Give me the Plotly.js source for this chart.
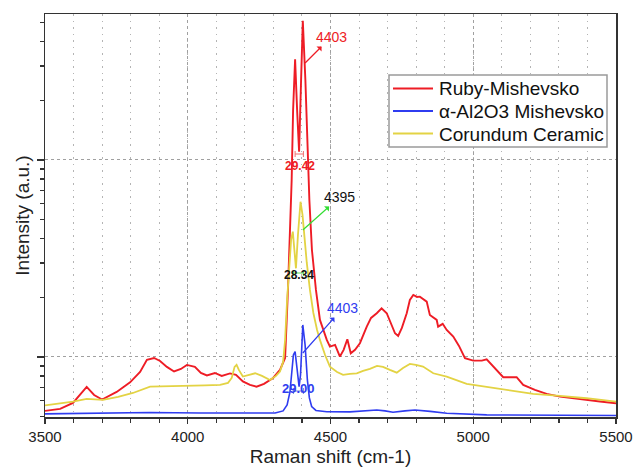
<!DOCTYPE html>
<html>
<head>
<meta charset="utf-8">
<script src="https://cdn.plot.ly/plotly-3.0.1.min.js"></script>
<style>html,body{margin:0;padding:0;background:#fff}#chart{width:633px;height:472px}</style>
</head>
<body>
<div id="chart"></div>
<script>
// Ruby-Mishevsko
const rubyX = [3500,3553,3598,3623,3646,3672,3700,3751,3798,3833,3857,3882,3903,3927,3952,3976,3997,4025,4046,4067,4095,4119,4148,4169,4193,4218,4241,4267,4299,4323,4341,4351,4358,4364,4369,4376,4383,4390,4397,4403,4412,4419,4426,4435,4449,4463,4487,4498,4516,4533,4546,4559,4571,4586,4603,4627,4642,4662,4679,4697,4712,4726,4737,4750,4767,4778,4790,4803,4813,4837,4848,4872,4877,4893,4907,4930,4950,4971,5000,5030,5047,5062,5076,5105,5152,5175,5216,5257,5304,5374,5444,5500];
const rubyY = [532,545,584,649,705,641,608,664,743,839,966,988,954,890,844,869,911,890,829,805,829,801,825,811,751,721,706,730,782,859,988,2188,4416,7907,17950,32430,17950,11020,25460,50930,25460,11250,6266,3491,2188,1541,1220,1128,1151,1004,1086,1230,1044,1086,1174,1425,1578,1667,1767,1667,1472,1319,1279,1404,1667,1946,2064,2017,2024,1909,1633,1541,1425,1472,1371,1268,1137,985,958,958,973,921,877,789,789,721,680,649,629,609,594,582];
// α-Al2O3 Mishevsko
const aluminaX = [3500,3693,3868,4043,4218,4306,4334,4348,4358,4365,4370,4376,4381,4386,4390,4395,4400,4403,4411,4419,4426,4434,4449,4487,4568,4662,4691,4719,4761,4796,4849,4907,5047,5269,5500];
const aluminaY = [514,517,522,519,517,519,532,570,664,859,1023,1064,911,747,706,811,1220,1453,1151,764,619,560,535,527,526,538,532,524,532,538,529,518,508,506,504];
// Corundum Ceramic
const ceramicX = [3500,3598,3646,3703,3756,3808,3868,3938,3996,4060,4113,4141,4154,4164,4171,4179,4193,4215,4236,4260,4288,4309,4323,4334,4341,4348,4355,4362,4368,4374,4379,4386,4391,4395,4402,4409,4417,4428,4440,4453,4463,4481,4498,4523,4544,4568,4592,4614,4638,4663,4684,4708,4732,4754,4778,4799,4824,4860,4907,4977,5047,5117,5210,5304,5397,5500];
const ceramicY = [568,593,613,605,627,656,706,712,712,717,721,738,782,890,911,859,795,811,826,801,764,801,842,944,1220,1946,2931,3926,4326,3296,2818,4159,5570,6138,5260,3926,2999,2188,1671,1371,1220,1023,893,839,811,820,826,849,869,900,890,859,832,879,921,911,893,826,795,730,706,680,649,634,617,593];

const seriesNames = ['Ruby-Mishevsko', 'α-Al2O3 Mishevsko', 'Corundum Ceramic'];
const xTickVals = [3500, 4000, 4500, 5000, 5500];
const xTickText = ['3500', '4000', '4500', '5000', '5500'];

const FONT = 'Liberation Sans, Arial, sans-serif';
const cRed = '#ee1c25', cBlue = '#2f3cf0', cYel = '#e3d344';
const colors = [cRed, cBlue, cYel];

const traces = [
  {x: rubyX, y: rubyY, name: seriesNames[0], type: 'scatter', mode: 'lines', line: {color: colors[0], width: 1.9}},
  {x: aluminaX, y: aluminaY, name: seriesNames[1], type: 'scatter', mode: 'lines', line: {color: colors[1], width: 1.6}},
  {x: ceramicX, y: ceramicY, name: seriesNames[2], type: 'scatter', mode: 'lines', line: {color: colors[2], width: 1.8}}
];

// pixel -> paper helpers (plot area: x 45..616, y 14..417)
function py(pix) { return (417 - pix) / 403; }
function px(pix) { return (pix - 45) / 571; }

const annotations = [
  {x: 4411, y: py(63), xref: 'x', yref: 'paper', text: '4403', showarrow: true, arrowside: 'start', arrowhead: 2, arrowsize: 1, arrowwidth: 1.2, arrowcolor: cRed, ax: 26, ay: -26, font: {family: FONT, size: 14, color: cRed}},
  {x: 4393, y: py(166), xref: 'x', yref: 'paper', text: '<b>29.42</b>', showarrow: false, font: {family: FONT, size: 12, color: cRed}},
  {x: 4403, y: py(230), xref: 'x', yref: 'paper', text: '4395', showarrow: true, arrowside: 'start', arrowhead: 2, arrowsize: 1, arrowwidth: 1.2, arrowcolor: '#33dd33', ax: 37, ay: -33, font: {family: FONT, size: 14, color: '#111'}},
  {x: 4388, y: py(284), xref: 'x', yref: 'paper', text: '<b>28.34</b>', showarrow: false, font: {family: FONT, size: 12, color: '#111'}},
  {x: 4403, y: py(353), xref: 'x', yref: 'paper', text: '4403', showarrow: true, arrowside: 'start', arrowhead: 2, arrowsize: 1, arrowwidth: 1.2, arrowcolor: cBlue, ax: 40, ay: -45, font: {family: FONT, size: 14, color: cBlue}},
  {x: 4388, y: py(398), xref: 'x', yref: 'paper', text: '<b>29.00</b>', showarrow: false, font: {family: FONT, size: 13, color: cBlue}}
];

function bracket(x0, x1, pix, color) {
  const yy = py(pix), h = 3 / 403;
  return [
    {type: 'line', xref: 'x', yref: 'paper', x0: x0, x1: x1, y0: yy, y1: yy, line: {color: color, width: 1}},
    {type: 'line', xref: 'x', yref: 'paper', x0: x0, x1: x0, y0: yy - h, y1: yy + h, line: {color: color, width: 1}},
    {type: 'line', xref: 'x', yref: 'paper', x0: x1, x1: x1, y0: yy - h, y1: yy + h, line: {color: color, width: 1}}
  ];
}
let shapes = [].concat(
  bracket(4376, 4405, 154, '#f07070'),
  bracket(4370, 4405, 273, '#55dd55'),
  bracket(4370, 4405, 391, '#7080d0')
);

// legend box drawn as shapes + annotations (text from seriesNames)
shapes.push({type: 'rect', xref: 'paper', yref: 'paper', x0: px(389), x1: px(607), y0: py(147), y1: py(75), fillcolor: '#fff', line: {color: '#9a9a9a', width: 1.5}, layer: 'above'});
const rowY = [88.5, 111, 133.5];
seriesNames.forEach(function (nm, i) {
  shapes.push({type: 'line', xref: 'paper', yref: 'paper', x0: px(393), x1: px(433), y0: py(rowY[i]), y1: py(rowY[i]), line: {color: colors[i], width: 1.8}, layer: 'above'});
  annotations.push({xref: 'paper', yref: 'paper', x: px(437), y: py(rowY[i] + 0.5), xanchor: 'left', yanchor: 'middle', text: nm, showarrow: false, font: {family: FONT, size: 19, color: '#111'}});
});

const layout = {
  width: 633, height: 472,
  margin: {l: 45, r: 17, t: 14, b: 55, pad: 0},
  paper_bgcolor: '#fff', plot_bgcolor: '#fff',
  font: {family: FONT, color: '#222'},
  showlegend: false,
  xaxis: {
    range: [3500, 5500], tickmode: 'array', tickvals: xTickVals, ticktext: xTickText,
    ticks: 'outside', ticklen: 5, tickwidth: 1.2, tickcolor: '#333',
    tickfont: {family: FONT, size: 15, color: '#222'},
    showline: true, linecolor: '#333', linewidth: 1.5, mirror: true, zeroline: false,
    showgrid: true, gridcolor: '#a0a0a0', griddash: '3px,3px', gridwidth: 1,
    minor: {dtick: 100, tick0: 3500, ticks: 'outside', ticklen: 4, tickwidth: 1.2, tickcolor: '#333', showgrid: true, gridcolor: '#b4b4b4', griddash: '1.5px,5px', gridwidth: 1},
    title: {text: 'Raman shift (cm-1)', font: {family: FONT, size: 19, color: '#222'}, standoff: 6},
    automargin: false
  },
  yaxis: {
    type: 'log', range: [2.695, 4.741], dtick: 1, tick0: 0,
    ticks: 'outside', ticklen: 7, tickwidth: 1.2, tickcolor: '#333', showticklabels: false,
    showline: true, linecolor: '#333', linewidth: 1.5, mirror: true, zeroline: false,
    showgrid: true, gridcolor: '#a0a0a0', griddash: '3px,3px', gridwidth: 1,
    minor: {ticks: 'outside', ticklen: 4, tickwidth: 1.2, tickcolor: '#333', showgrid: false},
    title: {text: 'Intensity (a.u.)', font: {family: FONT, size: 19, color: '#222'}, standoff: 2},
    automargin: false
  },
  annotations: annotations,
  shapes: shapes
};

Plotly.newPlot('chart', traces, layout, {staticPlot: true, displayModeBar: false});
</script>
</body>
</html>
